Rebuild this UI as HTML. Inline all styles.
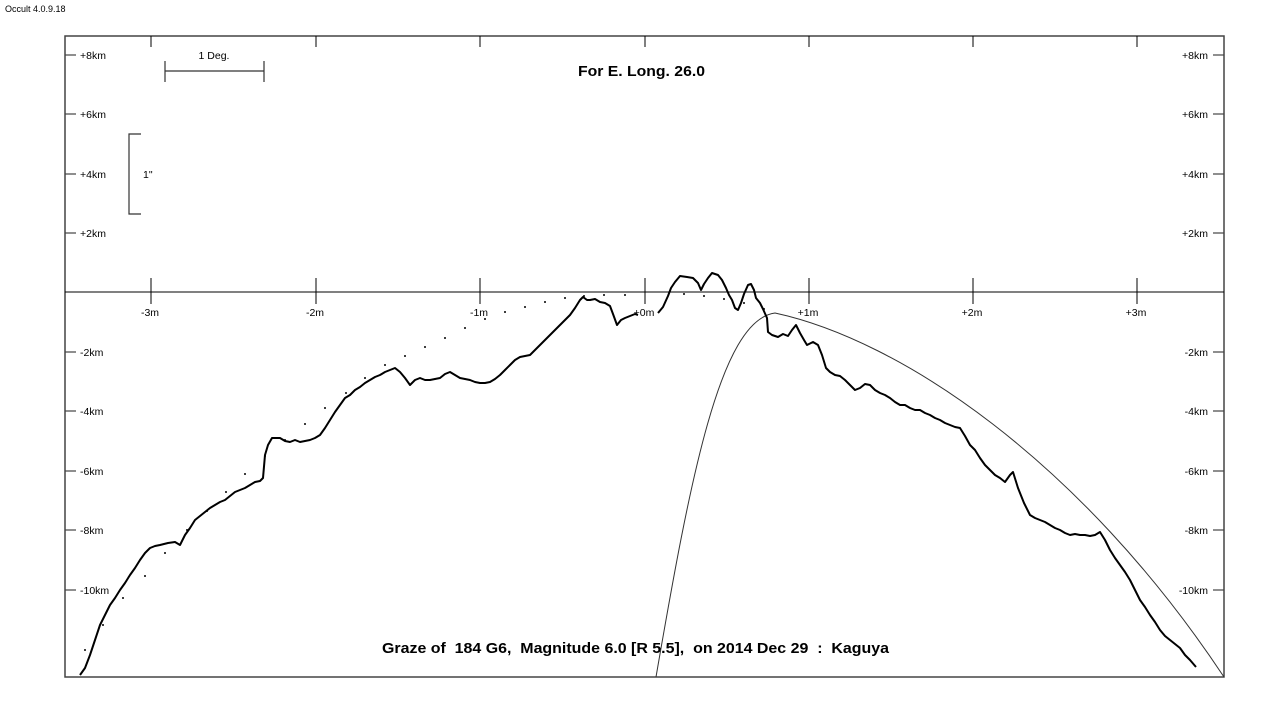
<!DOCTYPE html>
<html><head><meta charset="utf-8"><style>
html,body{margin:0;padding:0;background:#fff}
svg{display:block}
text{font-family:"Liberation Sans",Arial,sans-serif;fill:#000}
</style></head><body>
<svg width="1288" height="712" viewBox="0 0 1288 712" xmlns="http://www.w3.org/2000/svg">
<rect width="1288" height="712" fill="#fff"/>
<text x="5" y="12" font-size="9">Occult 4.0.9.18</text>
<rect x="65" y="36" width="1159" height="641" fill="none" stroke="#444" stroke-width="1.5"/>
<line x1="65" y1="292" x2="1224" y2="292" stroke="#000" stroke-width="1"/>
<g stroke="#000" stroke-width="1">
<line x1="151" y1="36" x2="151" y2="47"/><line x1="316" y1="36" x2="316" y2="47"/><line x1="480" y1="36" x2="480" y2="47"/><line x1="645" y1="36" x2="645" y2="47"/><line x1="809" y1="36" x2="809" y2="47"/><line x1="973" y1="36" x2="973" y2="47"/><line x1="1137" y1="36" x2="1137" y2="47"/>
<line x1="151" y1="278" x2="151" y2="304"/><line x1="316" y1="278" x2="316" y2="304"/><line x1="480" y1="278" x2="480" y2="304"/><line x1="645" y1="278" x2="645" y2="304"/><line x1="809" y1="278" x2="809" y2="304"/><line x1="973" y1="278" x2="973" y2="304"/><line x1="1137" y1="278" x2="1137" y2="304"/>
</g>
<g stroke="#444" stroke-width="1.2">
<line x1="65" y1="55" x2="76" y2="55"/><line x1="65" y1="114" x2="76" y2="114"/><line x1="65" y1="174" x2="76" y2="174"/><line x1="65" y1="233" x2="76" y2="233"/><line x1="65" y1="352" x2="76" y2="352"/><line x1="65" y1="411" x2="76" y2="411"/><line x1="65" y1="471" x2="76" y2="471"/><line x1="65" y1="530" x2="76" y2="530"/><line x1="65" y1="590" x2="76" y2="590"/>
<line x1="1213" y1="55" x2="1224" y2="55"/><line x1="1213" y1="114" x2="1224" y2="114"/><line x1="1213" y1="174" x2="1224" y2="174"/><line x1="1213" y1="233" x2="1224" y2="233"/><line x1="1213" y1="352" x2="1224" y2="352"/><line x1="1213" y1="411" x2="1224" y2="411"/><line x1="1213" y1="471" x2="1224" y2="471"/><line x1="1213" y1="530" x2="1224" y2="530"/><line x1="1213" y1="590" x2="1224" y2="590"/>
</g>
<g font-size="10.5">
<text x="80" y="59">+8km</text><text x="80" y="118">+6km</text><text x="80" y="178">+4km</text><text x="80" y="237">+2km</text><text x="80" y="356">-2km</text><text x="80" y="415">-4km</text><text x="80" y="475">-6km</text><text x="80" y="534">-8km</text><text x="80" y="594">-10km</text>
<g text-anchor="end"><text x="1208" y="59">+8km</text><text x="1208" y="118">+6km</text><text x="1208" y="178">+4km</text><text x="1208" y="237">+2km</text><text x="1208" y="356">-2km</text><text x="1208" y="415">-4km</text><text x="1208" y="475">-6km</text><text x="1208" y="534">-8km</text><text x="1208" y="594">-10km</text></g>
<g text-anchor="middle"><text x="150" y="316">-3m</text><text x="315" y="316">-2m</text><text x="479" y="316">-1m</text><text x="644" y="316">+0m</text><text x="808" y="316">+1m</text><text x="972" y="316">+2m</text><text x="1136" y="316">+3m</text>
<text x="214" y="59">1 Deg.</text></g>
<text x="143" y="178">1"</text>
</g>
<g stroke="#333" stroke-width="1.2" fill="none">
<path d="M165 71H264M165 61V82M264 61V82"/>
<path d="M141 134H129V214H141"/>
</g>
<text x="578" y="76" font-size="15" font-weight="bold" textLength="127" lengthAdjust="spacingAndGlyphs">For E. Long. 26.0</text>
<text x="382" y="653" font-size="15" font-weight="bold" xml:space="preserve" style="white-space:pre" textLength="507" lengthAdjust="spacingAndGlyphs">Graze of  184 G6,  Magnitude 6.0 [R 5.5],  on 2014 Dec 29  :  Kaguya</text>
<path d="M656 677C690 480 720 320 775 313C900 340 1080 460 1224 677" fill="none" stroke="#333" stroke-width="1"/>
<g fill="none" stroke="#000" stroke-width="2" stroke-linejoin="round">
<polyline points="80,675 85,668 90,655 95,640 100,625 105,615 110,605 115,598 120,590 125,583 130,575 135,568 140,560 145,553 150,548 155,546 160,545 168,543 175,542 180,545 185,535 190,528 195,520 200,516 205,512 210,508 215,505 220,502 225,500 230,496 235,492 240,490 245,488 250,485 255,482 260,481 263,478 265,455 268,445 272,438 280,438 285,441 290,442 295,440 300,442 305,441 310,440 315,438 320,435 325,428 330,420 335,412 340,405 345,398 350,395 355,390 360,387 365,383 370,380 375,377 380,375 385,372 390,370 395,368 400,372 405,378 410,385 415,380 420,378 425,380 430,380 435,379 440,378 445,374 450,372 455,375 460,378 465,379 470,380 475,382 480,383 485,383 490,382 495,379 500,375 505,370 510,365 515,360 520,357 525,356 530,355 535,350 540,345 545,340 550,335 555,330 560,325 565,320 570,315 575,308 580,300 583,297 587,300 590,300 595,299 600,302 605,303 610,306 613,314 617,325 621,320 625,318 630,316 635,314 638,315"/>
<polyline points="658,313 663,307 668,296 671,288 675,282 680,276 687,277 693,278 698,283 701,290 704,284 708,278 712,273 718,275 722,280 726,288 729,295 732,300 735,308 738,310 741,303 744,294 748,285 751,284 754,290 756,298 760,303 763,309 767,318 768,332 772,335 778,337 783,334 788,336 792,330 796,325 800,333 804,340 807,345 813,342 818,345 822,355 826,368 830,372 835,375 840,376 845,380 850,385 855,390 860,388 865,384 870,385 875,390 880,393 885,395 890,398 895,402 900,405 905,405 910,408 915,410 920,410 925,413 930,415 935,418 940,420 945,423 950,425 955,427 960,428 965,436 970,445 975,450 980,458 985,465 990,470 995,475 1000,478 1005,482 1010,475 1013,472 1018,488 1024,503 1030,515 1035,518 1040,520 1045,522 1050,525 1055,528 1060,530 1065,533 1070,535 1075,534 1080,535 1085,535 1090,536 1095,535 1100,532 1105,540 1110,550 1115,558 1120,565 1125,572 1130,580 1135,590 1140,600 1145,607 1150,615 1155,622 1160,630 1165,636 1170,640 1175,644 1180,648 1185,655 1190,660 1196,667"/>
</g>
<g fill="#000">
<circle cx="85" cy="650" r="1"/><circle cx="103" cy="625" r="1"/><circle cx="123" cy="598" r="1"/><circle cx="145" cy="576" r="1"/><circle cx="165" cy="553" r="1"/><circle cx="187" cy="530" r="1"/><circle cx="207" cy="511" r="1"/><circle cx="226" cy="492" r="1"/><circle cx="245" cy="474" r="1"/><circle cx="265" cy="456" r="1"/><circle cx="285" cy="440" r="1"/><circle cx="305" cy="424" r="1"/><circle cx="325" cy="408" r="1"/><circle cx="346" cy="393" r="1"/><circle cx="365" cy="378" r="1"/><circle cx="385" cy="365" r="1"/><circle cx="405" cy="356" r="1"/><circle cx="425" cy="347" r="1"/><circle cx="445" cy="338" r="1"/><circle cx="465" cy="328" r="1"/><circle cx="485" cy="319" r="1"/><circle cx="505" cy="312" r="1"/><circle cx="525" cy="307" r="1"/><circle cx="545" cy="302" r="1"/><circle cx="565" cy="298" r="1"/><circle cx="584" cy="296" r="1"/><circle cx="604" cy="295" r="1"/><circle cx="625" cy="295" r="1"/><circle cx="684" cy="294" r="1"/><circle cx="704" cy="296" r="1"/><circle cx="724" cy="299" r="1"/><circle cx="744" cy="303" r="1"/><circle cx="764" cy="309" r="1"/>
</g>
</svg>
</body></html>
